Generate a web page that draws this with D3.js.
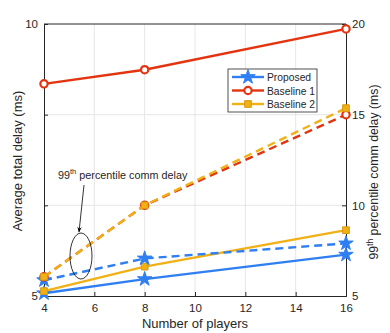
<!DOCTYPE html>
<html>
<head>
<meta charset="utf-8">
<script src="https://cdn.jsdelivr.net/npm/d3@7"></script>
<style>
  body { margin: 0; background: #fff; }
  svg text { font-family: "Liberation Sans", Arial, sans-serif; fill: #262626; }
</style>
</head>
<body>
<svg id="chart" width="390" height="333"></svg>
<script>
// players on the x axis
const players = [4, 8, 16]
const seriesNames = ['Proposed', 'Baseline 1', 'Baseline 2']

// average total delay (left axis, ms)
const avgProposed = [5.05, 5.31, 5.76]
const avgBaseline1 = [8.9, 9.16, 9.91]
const avgBaseline2 = [5.09, 5.54, 6.21]

// 99th percentile comm delay (right axis, ms)
const p99Proposed = [5.87, 7.07, 7.9]
const p99Baseline1 = [6.06, 10.0, 15.0]
const p99Baseline2 = [6.06, 10.0, 15.36]

const xTicks = [4, 6, 8, 10, 12, 14, 16]
const leftTicks = [5, 10]
const rightTicks = [5, 10, 15, 20]

const colors = { 'Proposed': '#2f7ff2', 'Baseline 1': '#e3340f', 'Baseline 2': '#f1b016' }
const markers = { 'Proposed': 'star', 'Baseline 1': 'circle', 'Baseline 2': 'square' }

const m = { left: 44, right: 346, top: 24, bottom: 296 }
const svg = d3.select('#chart')

const x = d3.scaleLinear().domain([4, 16]).range([m.left, m.right])
const yL = d3.scaleLinear().domain([5, 10]).range([m.bottom, m.top])
const yR = d3.scaleLinear().domain([5, 20]).range([m.bottom, m.top])

// grid
const grid = svg.append('g').attr('stroke', '#e6e6e6').attr('stroke-width', 1)
grid.selectAll('.gx').data(xTicks.slice(1, -1)).enter().append('line')
    .attr('x1', d => x(d)).attr('x2', d => x(d)).attr('y1', m.top).attr('y2', m.bottom)
grid.selectAll('.gy').data(rightTicks.slice(1, -1)).enter().append('line')
    .attr('y1', d => yR(d)).attr('y2', d => yR(d)).attr('x1', m.left).attr('x2', m.right)

// axes
const axisColor = '#262626'
const xAxis = svg.append('g').attr('transform', `translate(0,${m.bottom})`)
    .call(d3.axisBottom(x).tickValues(xTicks).tickSize(-4).tickPadding(8))
const leftAxis = svg.append('g').attr('transform', `translate(${m.left},0)`)
    .call(d3.axisLeft(yL).tickValues(leftTicks).tickFormat(d3.format('d')).tickSize(-4).tickPadding(6))
const leftExtra = svg.append('g').attr('transform', `translate(${m.left},0)`)
    .call(d3.axisLeft(yR).tickValues([10, 15]).tickSize(-4).tickFormat(''))
const rightAxis = svg.append('g').attr('transform', `translate(${m.right},0)`)
    .call(d3.axisRight(yR).tickValues(rightTicks).tickSize(-4).tickPadding(6))
svg.append('line').attr('x1', m.left).attr('x2', m.right).attr('y1', m.top).attr('y2', m.top)
    .attr('stroke', axisColor)

;[xAxis, leftAxis, leftExtra, rightAxis].forEach(a => {
    a.select('.domain').attr('stroke', axisColor)
    a.selectAll('.tick line').attr('stroke', axisColor)
    a.selectAll('text').attr('font-size', 11.5).attr('fill', axisColor)
})

// labels
svg.append('text').attr('x', (m.left + m.right) / 2).attr('y', 328)
    .attr('text-anchor', 'middle').attr('font-size', 13).text('Number of players')
svg.append('text').attr('transform', 'translate(22,161) rotate(-90)')
    .attr('text-anchor', 'middle').attr('font-size', 13).text('Average total delay (ms)')
const rl = svg.append('text').attr('transform', 'translate(378,172) rotate(-90)')
    .attr('text-anchor', 'middle').attr('font-size', 12.3)
rl.append('tspan').text('99')
rl.append('tspan').text('th').attr('font-size', 8.5).attr('dy', -5)
rl.append('tspan').text(' percentile comm delay (ms)').attr('dy', 5)

// series
const data = [
    { name: 'Proposed', vals: avgProposed, y: yL, dash: null },
    { name: 'Baseline 1', vals: avgBaseline1, y: yL, dash: null },
    { name: 'Baseline 2', vals: avgBaseline2, y: yL, dash: null },
    { name: 'Proposed', vals: p99Proposed, y: yR, dash: '8,5' },
    { name: 'Baseline 1', vals: p99Baseline1, y: yR, dash: '8,5' },
    { name: 'Baseline 2', vals: p99Baseline2, y: yR, dash: '8,5' }
]

const star = d3.symbol().type(d3.symbolStar).size(65)
const circle = d3.symbol().type(d3.symbolCircle).size(42)
const square = d3.symbol().type(d3.symbolSquare).size(45)

function drawMarker(g, type, cx, cy, color) {
    if (type === 'star') {
        g.append('path').attr('d', star()).attr('transform', `translate(${cx},${cy})`)
            .attr('fill', color).attr('stroke', color).attr('stroke-width', 1)
    } else if (type === 'circle') {
        g.append('path').attr('d', circle()).attr('transform', `translate(${cx},${cy})`)
            .attr('fill', '#fff').attr('stroke', color).attr('stroke-width', 2.2)
    } else {
        g.append('path').attr('d', square()).attr('transform', `translate(${cx},${cy})`)
            .attr('fill', color).attr('stroke', '#d89a10').attr('stroke-width', 1)
    }
}

const plot = svg.append('g')
data.forEach(s => {
    const line = d3.line().x((d, i) => x(players[i])).y(d => s.y(d))
    plot.append('path').datum(s.vals).attr('d', line)
        .attr('fill', 'none').attr('stroke', colors[s.name]).attr('stroke-width', 2.4)
        .attr('stroke-dasharray', s.dash)
    s.vals.forEach((v, i) => drawMarker(plot, markers[s.name], x(players[i]), s.y(v), colors[s.name]))
})

// legend
const lg = svg.append('g').attr('transform', 'translate(228,69)')
lg.append('rect').attr('width', 89).attr('height', 43).attr('fill', '#fff').attr('stroke', '#262626').attr('stroke-width', 0.8)
seriesNames.forEach((n, i) => {
    const yy = 8 + i * 13.5
    lg.append('line').attr('x1', 4).attr('x2', 36).attr('y1', yy).attr('y2', yy)
        .attr('stroke', colors[n]).attr('stroke-width', 2.4)
    drawMarker(lg, markers[n], 20, yy, colors[n])
    lg.append('text').attr('x', 39).attr('y', yy + 4).attr('font-size', 10.3).text(n)
})

// annotation
const ann = svg.append('text').attr('x', 58).attr('y', 179).attr('font-size', 10.8)
ann.append('tspan').text('99')
ann.append('tspan').text('th').attr('font-size', 7.5).attr('dy', -5)
ann.append('tspan').text(' percentile comm delay').attr('dy', 5)
svg.append('defs').append('marker').attr('id', 'ah').attr('viewBox', '0 0 10 10')
    .attr('refX', 9).attr('refY', 5).attr('markerWidth', 7).attr('markerHeight', 7).attr('orient', 'auto')
    .append('path').attr('d', 'M0,1 L10,5 L0,9 L3,5 Z').attr('fill', '#000')
svg.append('line').attr('x1', 84).attr('y1', 185).attr('x2', 79).attr('y2', 232)
    .attr('stroke', '#000').attr('stroke-width', 0.8).attr('marker-end', 'url(#ah)')
svg.append('ellipse').attr('cx', 81).attr('cy', 256).attr('rx', 11).attr('ry', 23)
    .attr('fill', 'none').attr('stroke', '#000').attr('stroke-width', 0.8)
</script>
</body>
</html>
